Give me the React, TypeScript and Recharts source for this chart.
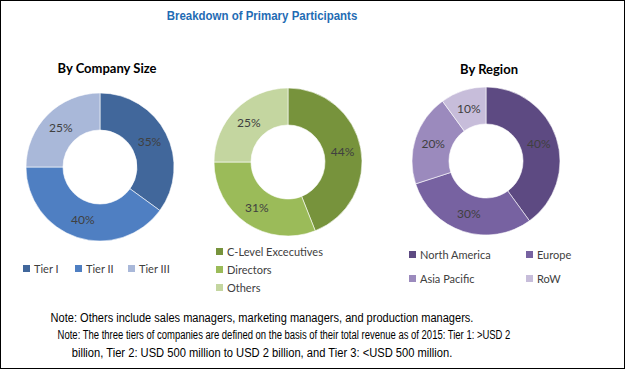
import React from 'react'
import { Cell, Pie, PieChart } from 'recharts'

const sizeNames = ['Tier I', 'Tier II', 'Tier III']
const sizeValues = [35, 40, 25]
const designationNames = ['C-Level Excecutives', 'Directors', 'Others']
const designationValues = [44, 31, 25]
const regionNames = ['North America', 'Europe', 'Asia Pacific', 'RoW']
const regionValues = [40, 30, 20, 10]

const sizeColors = ['#41679b', '#4f7fc2', '#a9b8d9']
const designationColors = ['#77933c', '#9bbb59', '#c4d6a0']
const regionColors = ['#5d4a82', '#7762a1', '#9b8abd', '#c7bdda']

const noteLines = [
    'Note: Others include sales managers, marketing managers, and production managers.',
    'Note: The three tiers of companies are defined on the basis of their total revenue as of 2015: Tier 1: >USD 2',
    'billion, Tier 2: USD 500 million to USD 2 billion, and Tier 3: <USD 500 million.',
]

const toRows = (names: string[], values: number[]) =>
    names.map((name, i) => ({ name, value: values[i] }))

const RAD = Math.PI / 180
const bodyFont = 'Lato, "Open Sans", sans-serif'
const narrowFont = '"Liberation Sans", Arial, sans-serif'

const renderLabel = (props: any) => {
    const { cx, cy, midAngle, innerRadius, outerRadius, value } = props
    const r = (innerRadius + outerRadius) / 2
    const x = cx + r * Math.cos(-midAngle * RAD)
    const y = cy + r * Math.sin(-midAngle * RAD)
    return (
        <text x={x} y={y} textAnchor="middle" dominantBaseline="central"
            fill="#404040" fontSize={12} fontFamily={bodyFont}>
            {`${value}%`}
        </text>
    )
}

const LegendItem = ({ name, color, left, top }: { name: string, color: string, left: number, top: number }) => (
    <div style={{ position: 'absolute', left, top, display: 'flex', alignItems: 'center', fontSize: 11, color: '#404040', fontFamily: bodyFont, whiteSpace: 'nowrap' }}>
        <span style={{ width: 7, height: 7, background: color, marginRight: 4, display: 'inline-block' }} />
        {name}
    </div>
)

// centred, horizontally squeezed line (stands in for a narrow font)
const NarrowLine = ({ text, center, top, scale, style }: { text: string, center: number, top: number, scale: number, style?: React.CSSProperties }) => (
    <div style={{ position: 'absolute', left: center - 400, width: 800, top, textAlign: 'center', whiteSpace: 'nowrap', fontFamily: narrowFont, transform: `scaleX(${scale})`, ...style }}>
        {text}
    </div>
)

const App = () => {
    const sizeData = toRows(sizeNames, sizeValues)
    const designationData = toRows(designationNames, designationValues)
    const regionData = toRows(regionNames, regionValues)

    return (
        <div style={{ position: 'absolute', left: 0, top: 0, width: 625, height: 369, border: '1px solid #000', boxSizing: 'border-box', background: '#fff', overflow: 'hidden' }}>
            <NarrowLine text="Breakdown of Primary Participants" center={261} top={7} scale={0.85}
                style={{ color: '#1f6cb4', fontWeight: 'bold', fontSize: 13.5 }} />
            <div style={{ position: 'absolute', left: 56, width: 100, top: 59, textAlign: 'center', fontWeight: 'bold', fontSize: 13, fontFamily: bodyFont, color: '#000' }}>
                By Company Size
            </div>
            <div style={{ position: 'absolute', left: 438, width: 100, top: 60, textAlign: 'center', fontWeight: 'bold', fontSize: 13, fontFamily: bodyFont, color: '#000' }}>
                By Region
            </div>

            <div style={{ position: 'absolute', left: -1, top: -1 }}>
                <PieChart width={625} height={369} margin={{ top: 0, right: 0, bottom: 0, left: 0 }}>
                    <Pie data={sizeData} dataKey="value" nameKey="name" cx={100} cy={167} innerRadius={37} outerRadius={74}
                        startAngle={90} endAngle={-270} stroke="#fff" strokeWidth={0.6} label={renderLabel} labelLine={false} isAnimationActive={false}>
                        {sizeData.map((d, i) => <Cell key={d.name} fill={sizeColors[i]} />)}
                    </Pie>
                    <Pie data={designationData} dataKey="value" nameKey="name" cx={288} cy={162} innerRadius={37} outerRadius={74}
                        startAngle={90} endAngle={-270} stroke="#fff" strokeWidth={0.6} label={renderLabel} labelLine={false} isAnimationActive={false}>
                        {designationData.map((d, i) => <Cell key={d.name} fill={designationColors[i]} />)}
                    </Pie>
                    <Pie data={regionData} dataKey="value" nameKey="name" cx={486} cy={161} innerRadius={37} outerRadius={74}
                        startAngle={90} endAngle={-270} stroke="#fff" strokeWidth={0.6} label={renderLabel} labelLine={false} isAnimationActive={false}>
                        {regionData.map((d, i) => <Cell key={d.name} fill={regionColors[i]} />)}
                    </Pie>
                </PieChart>
            </div>

            {sizeNames.map((n, i) => (
                <LegendItem key={n} name={n} color={sizeColors[i]} left={[22, 74, 127][i]} top={261} />
            ))}
            {designationNames.map((n, i) => (
                <LegendItem key={n} name={n} color={designationColors[i]} left={215} top={244 + i * 18} />
            ))}
            {regionNames.map((n, i) => (
                <LegendItem key={n} name={n} color={regionColors[i]} left={i % 2 === 0 ? 408 : 525} top={247 + Math.floor(i / 2) * 24} />
            ))}

            <NarrowLine text={noteLines[0]} center={261} top={310} scale={0.92} style={{ fontSize: 12 }} />
            <NarrowLine text={noteLines[1]} center={283} top={327} scale={0.79} style={{ fontSize: 12 }} />
            <NarrowLine text={noteLines[2]} center={261} top={345} scale={0.93} style={{ fontSize: 12 }} />
        </div>
    )
}

export default App
